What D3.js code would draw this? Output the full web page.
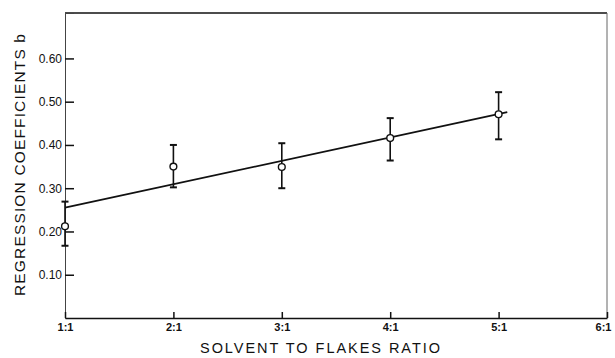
<!DOCTYPE html>
<html>
<head>
<meta charset="utf-8">
<script src="https://cdn.jsdelivr.net/npm/d3@7"></script>
<style>
  html, body { margin: 0; padding: 0; background: #fff; overflow: hidden; }
  svg { display: block; }
  text { font-family: "Liberation Sans", Arial, sans-serif; fill: #111; }
</style>
</head>
<body>
<svg id="chart" width="615" height="358"></svg>
<script>
// solvent to flakes ratio (x) vs regression coefficient b (y)
const ratios = [1, 2, 3, 4, 5];
const ratioLabels = ["1:1", "2:1", "3:1", "4:1", "5:1", "6:1"];
const coeff = [0.212, 0.350, 0.349, 0.416, 0.471];
const errHigh = [0.269, 0.400, 0.404, 0.462, 0.522];
const errLow = [0.167, 0.302, 0.300, 0.364, 0.413];
const fitX = [1, 5.08];
const fitY = [0.255, 0.476];
const yTicks = [0.1, 0.2, 0.3, 0.4, 0.5, 0.6];

const svg = d3.select("#chart");
const width = +svg.attr("width");
const height = +svg.attr("height");
const margin = { top: 13, right: 8, bottom: 40, left: 65 };
const innerWidth = width - margin.left - margin.right;
const innerHeight = height - margin.top - margin.bottom;

const xScale = d3.scaleLinear().domain([1, 6]).range([0, innerWidth]);
const yScale = d3.scaleLinear().domain([0, 0.705]).range([innerHeight, 0]);

const g = svg
  .append("g")
  .attr("transform", `translate(${margin.left},${margin.top})`);

// frame: top and right edges
g.append("line")
  .attr("x1", 0).attr("x2", innerWidth)
  .attr("y1", 0).attr("y2", 0)
  .attr("stroke", "#111").attr("stroke-width", 1.5);
g.append("line")
  .attr("x1", innerWidth).attr("x2", innerWidth)
  .attr("y1", 0).attr("y2", innerHeight)
  .attr("stroke", "#666").attr("stroke-width", 1);

// y axis, ticks pointing inward
const yAxisG = g.append("g").call(
  d3.axisLeft(yScale)
    .tickValues(yTicks)
    .tickFormat(d3.format(".2f"))
    .tickSize(-9)
    .tickPadding(3)
);
yAxisG.select(".domain").attr("stroke", "#444").attr("stroke-width", 1);
yAxisG.selectAll(".tick line").attr("stroke", "#111").attr("stroke-width", 1.5);
yAxisG.selectAll(".tick text")
  .attr("font-size", 12)
  .attr("font-family", "Liberation Sans, Arial, sans-serif")
  .attr("fill", "#111");

// x axis, ticks pointing up
const xAxisG = g.append("g")
  .attr("transform", `translate(0,${innerHeight})`)
  .call(
    d3.axisBottom(xScale)
      .tickValues([1, 2, 3, 4, 5, 6])
      .tickFormat((d, i) => ratioLabels[i])
      .tickSize(-6)
      .tickSizeOuter(0)
      .tickPadding(5)
  );
xAxisG.select(".domain").attr("stroke", "#111").attr("stroke-width", 1.5);
xAxisG.selectAll(".tick line").attr("stroke", "#111").attr("stroke-width", 1.5);
xAxisG.selectAll(".tick text")
  .attr("font-size", 11)
  .attr("font-family", "Liberation Sans, Arial, sans-serif")
  .attr("font-weight", "bold")
  .attr("fill", "#111");
// keep the last label inside the picture
xAxisG.selectAll(".tick text")
  .filter((d) => d === 6)
  .attr("text-anchor", "end")
  .attr("dx", 4);

// fitted line
g.append("line")
  .attr("x1", xScale(fitX[0])).attr("y1", yScale(fitY[0]))
  .attr("x2", xScale(fitX[1])).attr("y2", yScale(fitY[1]))
  .attr("stroke", "#111").attr("stroke-width", 1.8);

// error bars
const pts = ratios.map((r, i) => ({ r, b: coeff[i], hi: errHigh[i], lo: errLow[i] }));
const err = g.selectAll(".err").data(pts).enter().append("g").attr("class", "err");
err.append("line")
  .attr("x1", (d) => xScale(d.r)).attr("x2", (d) => xScale(d.r))
  .attr("y1", (d) => yScale(d.hi)).attr("y2", (d) => yScale(d.lo))
  .attr("stroke", "#111").attr("stroke-width", 1.6);
err.append("line")
  .attr("x1", (d) => xScale(d.r) - 3.5).attr("x2", (d) => xScale(d.r) + 3.5)
  .attr("y1", (d) => yScale(d.hi)).attr("y2", (d) => yScale(d.hi))
  .attr("stroke", "#111").attr("stroke-width", 2);
err.append("line")
  .attr("x1", (d) => xScale(d.r) - 3.5).attr("x2", (d) => xScale(d.r) + 3.5)
  .attr("y1", (d) => yScale(d.lo)).attr("y2", (d) => yScale(d.lo))
  .attr("stroke", "#111").attr("stroke-width", 2);

// open circles
g.selectAll("circle")
  .data(pts)
  .enter()
  .append("circle")
  .attr("cx", (d) => xScale(d.r))
  .attr("cy", (d) => yScale(d.b))
  .attr("r", 3.4)
  .attr("fill", "#fff")
  .attr("stroke", "#111")
  .attr("stroke-width", 1.4);

// axis titles
svg.append("text")
  .attr("transform", "translate(25,165) rotate(-90)")
  .attr("text-anchor", "middle")
  .attr("font-size", 15.5)
  .attr("textLength", 262)
  .attr("lengthAdjust", "spacing")
  .text("REGRESSION  COEFFICIENTS  b");

svg.append("text")
  .attr("x", 320)
  .attr("y", 353)
  .attr("text-anchor", "middle")
  .attr("font-size", 14.5)
  .attr("textLength", 240)
  .attr("lengthAdjust", "spacing")
  .text("SOLVENT TO FLAKES RATIO");
</script>
</body>
</html>
